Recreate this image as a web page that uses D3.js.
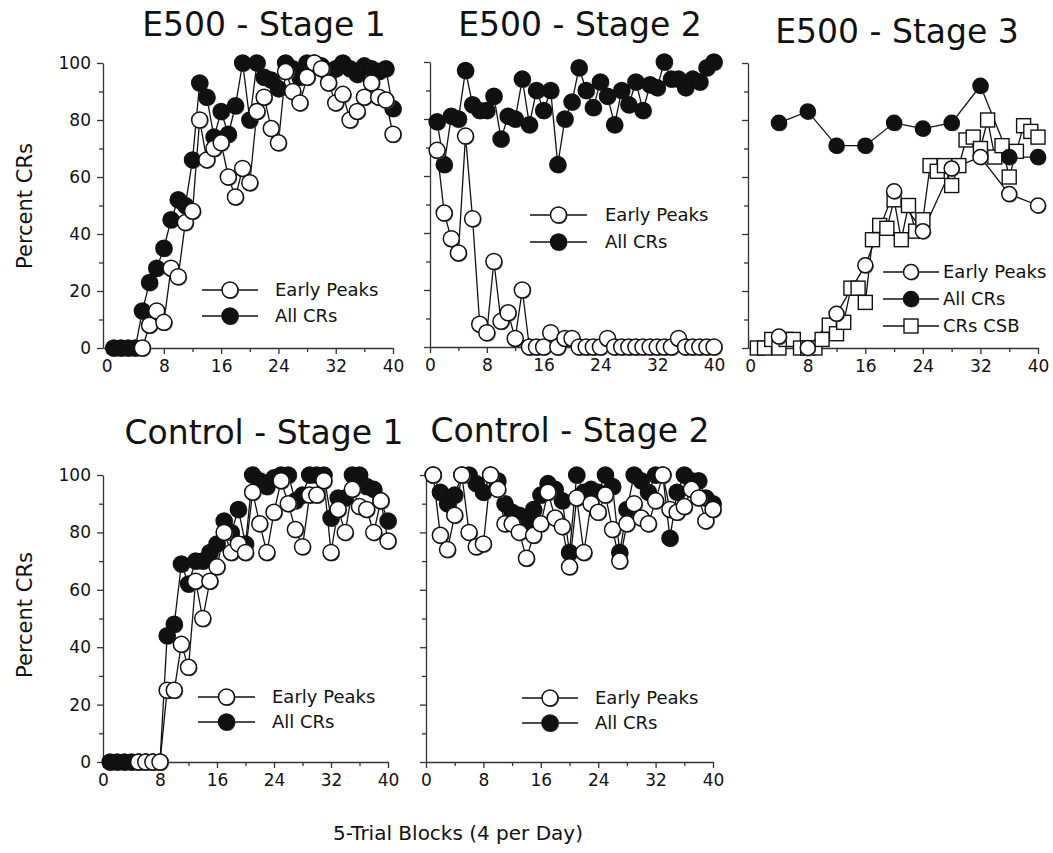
<!DOCTYPE html>
<html>
<head>
  <meta charset="utf-8">
  <title>Percent CRs</title>
  <script src="https://d3js.org/d3.v7.min.js"></script>
  <style>
    body { margin: 0; background: #fff; }
    text { font-family: "DejaVu Sans", sans-serif; fill: #111; }
    .axis path, .axis line { stroke: #333; stroke-width: 1.3; }
  </style>
</head>
<body>
<svg id="chart" width="1053" height="853"></svg>
<script>
// trial blocks 1..40
const blocks = [1,2,3,4,5,6,7,8,9,10,11,12,13,14,15,16,17,18,19,20,
                21,22,23,24,25,26,27,28,29,30,31,32,33,34,35,36,37,38,39,40];
// stage 3 only has one point per day
const stage3Days = [4,8,12,16,20,24,28,32,36,40];

const e1Early = [null,null,null,null,0,8,13,9,28,25, 44,48,80,66,70,72,60,53,63,58,
                 83,88,77,72,97,90,86,95,100,98, 93,86,89,80,83,88,93,88,87,75];
const e1All   = [0,0,0,0,13,23,28,35,45,52, 50,66,93,88,74,83,75,85,100,80,
                 100,95,94,91,100,98,95,100,100,99, 96,98,100,98,96,99,98,97,98,84];

const e2Early = [69,47,38,33,74,45,8,5,30,9, 12,3,20,0,0,0,5,0,3,3,
                 0,0,0,0,3,0,0,0,0,0, 0,0,0,0,3,0,0,0,0,0];
const e2All   = [79,64,81,80,97,85,83,83,88,73, 81,80,94,78,90,83,90,64,80,86,
                 98,90,84,93,88,78,90,85,93,83, 92,91,100,94,94,91,94,93,98,100];

const e3Early = [4,0,12,29,55,41,63,67,54,50];
const e3All   = [79,83,71,71,79,77,79,92,67,67];
const e3Csb   = [0,0,3,0,3,3,0,0,0,3, 8,5,9,21,21,16,38,43,42,52,
                 38,50,41,45,64,62,64,57,64,73, 74,70,80,67,71,60,69,78,76,74];

const c1Early = [null,null,null,null,0,0,0,0,25,25, 41,33,63,50,63,68,80,73,76,73,
                 94,83,73,87,98,90,81,75,93,93, 98,73,88,80,95,89,88,80,91,77];
const c1All   = [0,0,0,0,0,0,0,0,44,48, 69,62,70,70,73,76,84,80,88,76,
                 100,98,96,99,100,100,91,93,100,100, 100,85,92,92,100,100,96,95,91,84];

const c2Early = [100,79,74,86,100,80,75,76,100,95, 83,83,80,71,79,83,94,85,82,68,
                 92,73,90,87,93,81,70,83,90,85, 83,91,100,88,87,89,95,92,84,88];
const c2All   = [100,94,90,93,100,100,97,94,100,98, 90,87,86,84,88,93,97,95,91,73,
                 100,94,95,94,100,96,73,88,100,98, 94,100,100,78,94,100,98,98,92,90];

const xTicks = [0,8,16,24,32,40];
const xMinor = [4,12,20,28,36];
const yTicks = [0,20,40,60,80,100];
const yMinor = [10,30,50,70,90];

const svg = d3.select("svg#chart");

function pairs(xs, ys) {
  return xs.map((x, i) => ({x: x, y: ys[i]})).filter(d => d.y != null);
}

function drawPanel(p) {
  const x = d3.scaleLinear().domain([p.xmin, 40]).range([p.left, p.right]);
  const y = d3.scaleLinear().domain([0, 100]).range([p.bottom, p.top]);
  const g = svg.append("g");

  // axes
  const xAxis = d3.axisBottom(x).tickValues(xTicks).tickSize(6).tickSizeOuter(0).tickPadding(6);
  const ax = g.append("g").attr("class", "axis")
    .attr("transform", "translate(0," + p.bottom + ")").call(xAxis);
  ax.selectAll("text").style("font-size", "17px");
  g.append("g").attr("class", "axis")
    .attr("transform", "translate(0," + p.bottom + ")")
    .call(d3.axisBottom(x).tickValues(xMinor).tickSize(4).tickFormat(""))
    .select(".domain").remove();

  const yAxis = d3.axisLeft(y).tickValues(yTicks).tickSize(6).tickSizeOuter(0).tickPadding(6);
  if (!p.yLabels) yAxis.tickFormat("");
  const ay = g.append("g").attr("class", "axis")
    .attr("transform", "translate(" + p.left + ",0)").call(yAxis);
  ay.selectAll("text").style("font-size", "17px");
  g.append("g").attr("class", "axis")
    .attr("transform", "translate(" + p.left + ",0)")
    .call(d3.axisLeft(y).tickValues(yMinor).tickSize(4).tickFormat(""))
    .select(".domain").remove();

  g.append("text")
    .attr("x", p.titleX).attr("y", p.titleY)
    .attr("text-anchor", "middle")
    .style("font-size", "33px")
    .text(p.title);

  const line = d3.line().x(d => x(d.x)).y(d => y(d.y));

  p.series.forEach(s => {
    g.append("path").datum(pairs(s.xs, s.ys))
      .attr("d", line)
      .attr("fill", "none")
      .attr("stroke", "#111")
      .attr("stroke-width", 1.3);
  });
  p.series.forEach(s => {
    const pts = pairs(s.xs, s.ys);
    drawMarkers(g, pts.map(d => [x(d.x), y(d.y)]), s.kind, p.r);
  });

  // legend (Early Peaks first)
  p.series.slice().reverse().forEach((s, i) => {
    const ly = p.legY + i * p.legStep;
    g.append("line")
      .attr("x1", p.legX).attr("x2", p.legX + p.legW)
      .attr("y1", ly).attr("y2", ly)
      .attr("stroke", "#111").attr("stroke-width", 1.3);
    drawMarkers(g, [[p.legX + p.legW / 2, ly]], s.kind, p.r);
    g.append("text")
      .attr("x", p.legX + p.legW + p.legGap).attr("y", ly)
      .attr("dy", "0.36em")
      .style("font-size", "18px")
      .text(s.name);
  });
}

function drawMarkers(g, pts, kind, r) {
  if (kind === "square") {
    g.selectAll(null).data(pts).join("rect")
      .attr("x", d => d[0] - r + 0.5).attr("y", d => d[1] - r + 0.5)
      .attr("width", 2 * r - 1).attr("height", 2 * r - 1)
      .attr("fill", "#fff").attr("stroke", "#111").attr("stroke-width", 1.4);
    return;
  }
  g.selectAll(null).data(pts).join("circle")
    .attr("cx", d => d[0] + 1).attr("cy", d => d[1] + 1).attr("r", r)
    .attr("fill", "#666");
  g.selectAll(null).data(pts).join("circle")
    .attr("cx", d => d[0]).attr("cy", d => d[1]).attr("r", r)
    .attr("fill", kind === "filled" ? "#111" : "#fff")
    .attr("stroke", "#111").attr("stroke-width", 1.5);
}

const panels = [
  {title: "E500 - Stage 1", titleX: 264, titleY: 36, left: 103, xmin: -0.5, right: 393,
   top: 63, bottom: 348, yLabels: true, r: 8,
   legX: 202, legW: 56, legGap: 17, legY: 290, legStep: 26,
   series: [{name: "All CRs", xs: blocks, ys: e1All, kind: "filled"},
            {name: "Early Peaks", xs: blocks, ys: e1Early, kind: "open"}]},
  {title: "E500 - Stage 2", titleX: 580, titleY: 36, left: 430, xmin: 0, right: 714,
   top: 62, bottom: 347, yLabels: false, r: 8,
   legX: 530, legW: 57, legGap: 18, legY: 215, legStep: 27,
   series: [{name: "All CRs", xs: blocks, ys: e2All, kind: "filled"},
            {name: "Early Peaks", xs: blocks, ys: e2Early, kind: "open"}]},
  {title: "E500 - Stage 3", titleX: 897, titleY: 43, left: 748, xmin: -0.3, right: 1038,
   top: 63, bottom: 348, yLabels: false, r: 7.5,
   legX: 883, legW: 56, legGap: 4, legY: 272, legStep: 27,
   series: [{name: "CRs CSB", xs: blocks, ys: e3Csb, kind: "square"},
            {name: "All CRs", xs: stage3Days, ys: e3All, kind: "filled"},
            {name: "Early Peaks", xs: stage3Days, ys: e3Early, kind: "open"}]},
  {title: "Control - Stage 1", titleX: 264, titleY: 444, left: 103, xmin: 0, right: 388,
   top: 475, bottom: 762, yLabels: true, r: 8,
   legX: 198, legW: 57, legGap: 17, legY: 697, legStep: 25,
   series: [{name: "All CRs", xs: blocks, ys: c1All, kind: "filled"},
            {name: "Early Peaks", xs: blocks, ys: c1Early, kind: "open"}]},
  {title: "Control - Stage 2", titleX: 570, titleY: 442, left: 426, xmin: 0, right: 713,
   top: 475, bottom: 762, yLabels: false, r: 8,
   legX: 522, legW: 56, legGap: 17, legY: 698, legStep: 25,
   series: [{name: "All CRs", xs: blocks, ys: c2All, kind: "filled"},
            {name: "Early Peaks", xs: blocks, ys: c2Early, kind: "open"}]}
];

// legend in stage 3 lists Early Peaks, All CRs, CRs CSB
panels[2].series = panels[2].series;

panels.forEach(p => drawPanel(p));

// axis titles
[206, 615].forEach(cy => {
  svg.append("text")
    .attr("transform", "translate(32," + cy + ") rotate(-90)")
    .attr("text-anchor", "middle")
    .style("font-size", "21px")
    .text("Percent CRs");
});

svg.append("text")
  .attr("x", 458).attr("y", 840)
  .attr("text-anchor", "middle")
  .style("font-size", "20px")
  .text("5-Trial Blocks (4 per Day)");
</script>
</body>
</html>
